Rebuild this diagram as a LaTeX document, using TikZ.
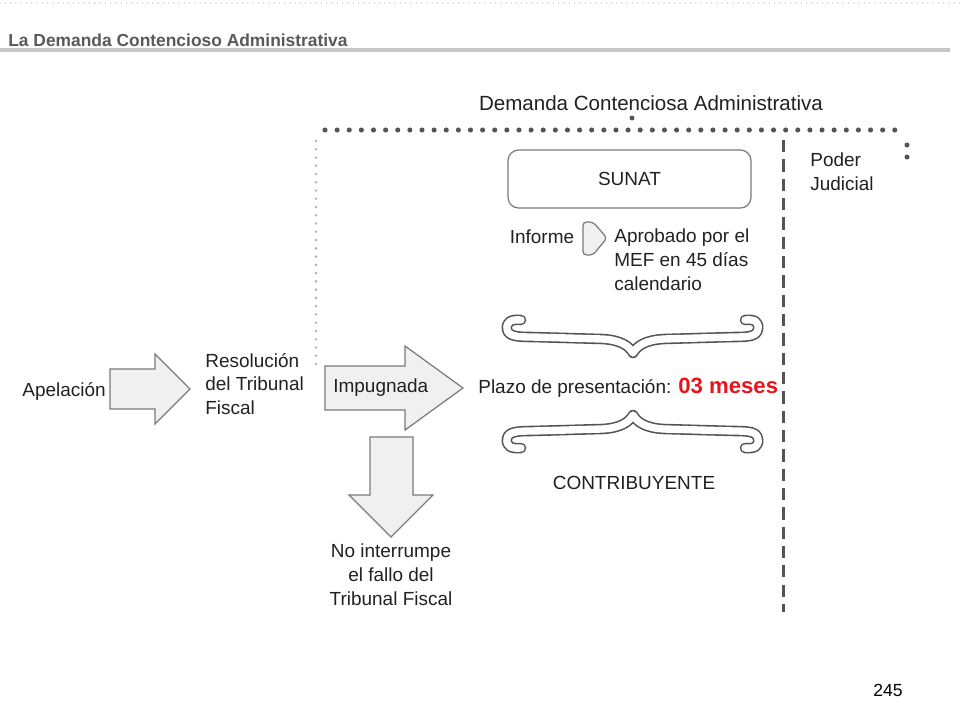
\documentclass[tikz,border=0pt]{standalone}
\usepackage{fontspec}
\setmainfont{Liberation Sans}
\definecolor{clt}{gray}{.13}
\definecolor{clh}{gray}{.35}
\definecolor{cla}{gray}{.94}
\definecolor{cle}{gray}{.48}
\definecolor{cld}{gray}{.33}
\definecolor{clr}{RGB}{232, 20, 27}
\tikzset{
    txt/.style={text=clt, font=\fontsize{10.8}{13.6}\selectfont, inner sep=0pt},
    blk/.style={fill=cla, draw=cle, line width=0.7pt},
    brc/.style={draw=cld, line width=0.9pt, double=white, double distance=4.2pt, line cap=round, line join=round},
}

\begin{document}
\begin{tikzpicture}[x=0.02cm, y=-0.02cm]
    \useasboundingbox(0, 0) rectangle (960, 720);
    % encabezado
    \draw[gray!35, line width=1pt, line cap=round, dash pattern=on 0pt off 3pt](0, 3)--(960, 3);
    \draw[gray!45, line width=2.2pt](0, 50)--(950, 50);
    \node[txt, anchor=west, text=clh, font=\fontsize{9.9}{12}\selectfont\bfseries](ttl) at (8, 40){La Demanda Contencioso Administrativa};
    % marco punteado
    \node[txt, font=\fontsize{11.7}{14}\selectfont](dca) at (651, 103){Demanda Contenciosa Administrativa};
    \fill[cld](632, 118) circle(2.5);
    \draw[cld, line width=2.9pt, line cap=round, dash pattern=on 0pt off 6.9pt](325, 130)--(906, 130);
    \fill[cld](907, 145) circle(2.5) (907, 157) circle(2.5);
    \draw[gray!60, line width=1.6pt, line cap=round, dash pattern=on 0pt off 4.7pt](316, 141)--(316, 365);
    \draw[cld, line width=1.7pt, dash pattern=on 7pt off 4pt](783, 140)--(783, 612);
    \node[txt, anchor=west, align=left](pj) at (810, 172){Poder\\Judicial};
    % SUNAT
    \node[txt, draw=cle, line width=0.7pt, rounded corners=6pt, minimum width=4.86cm, minimum height=1.16cm](sunat) at (629.5, 179){SUNAT};
    \node[txt](inf) at (542, 237){Informe};
    \draw[blk, rounded corners=2pt](583, 222)--(593, 222)--(607, 238)--(593, 255)--(583, 255)--cycle;
    \node[txt, anchor=west, align=left](apr) at (614, 260){Aprobado por el\\MEF en 45 días\\calendario};
    % llaves
    \draw[brc](521, 320) .. controls (511, 319) and (506, 322) .. (507, 329)
        .. controls (508, 336) and (516, 337) .. (532, 337)--(602, 339)
        .. controls (621, 340) and (629, 346) .. (633, 353)
        .. controls (637, 346) and (645, 340) .. (664, 339)--(734, 337)
        .. controls (750, 337) and (757, 336) .. (758, 329)
        .. controls (759, 322) and (755, 319) .. (745, 320);
    \node[txt, anchor=west](plz) at (478, 388){Plazo de presentación: \textcolor{clr}{\fontsize{12.6}{14}\selectfont\bfseries 03 meses}};
    \draw[brc](521, 448) .. controls (511, 449) and (506, 446) .. (507, 439)
        .. controls (508, 432) and (516, 431) .. (532, 431)--(602, 429)
        .. controls (621, 428) and (629, 422) .. (633, 415)
        .. controls (637, 422) and (645, 428) .. (664, 429)--(734, 431)
        .. controls (750, 431) and (757, 432) .. (758, 439)
        .. controls (759, 446) and (755, 449) .. (745, 448);
    \node[txt](con) at (634, 483){CONTRIBUYENTE};
    % flechas
    \node[txt, anchor=west](apl) at (22, 391){Apelación};
    \draw[blk](110, 369)--(155, 369)--(155, 354)--(190, 389)--(155, 424)--(155, 409)--(110, 409)--cycle;
    \node[txt, anchor=west, align=left](res) at (205, 384){Resolución\\del Tribunal\\Fiscal};
    \draw[blk](325, 366)--(405, 366)--(405, 346)--(463, 388)--(405, 430)--(405, 410)--(325, 410)--cycle;
    \node[txt, anchor=west](imp) at (333, 388){Impugnada};
    \draw[blk](370, 437)--(413, 437)--(413, 495)--(433, 495)--(391, 537)--(349, 495)--(370, 495)--cycle;
    \node[txt, align=center](noi) at (391, 575){No interrumpe\\el fallo del\\Tribunal Fiscal};
    \node[txt, text=black, font=\fontsize{10}{12}\selectfont](pg) at (888, 690){245};
\end{tikzpicture}
\end{document}
